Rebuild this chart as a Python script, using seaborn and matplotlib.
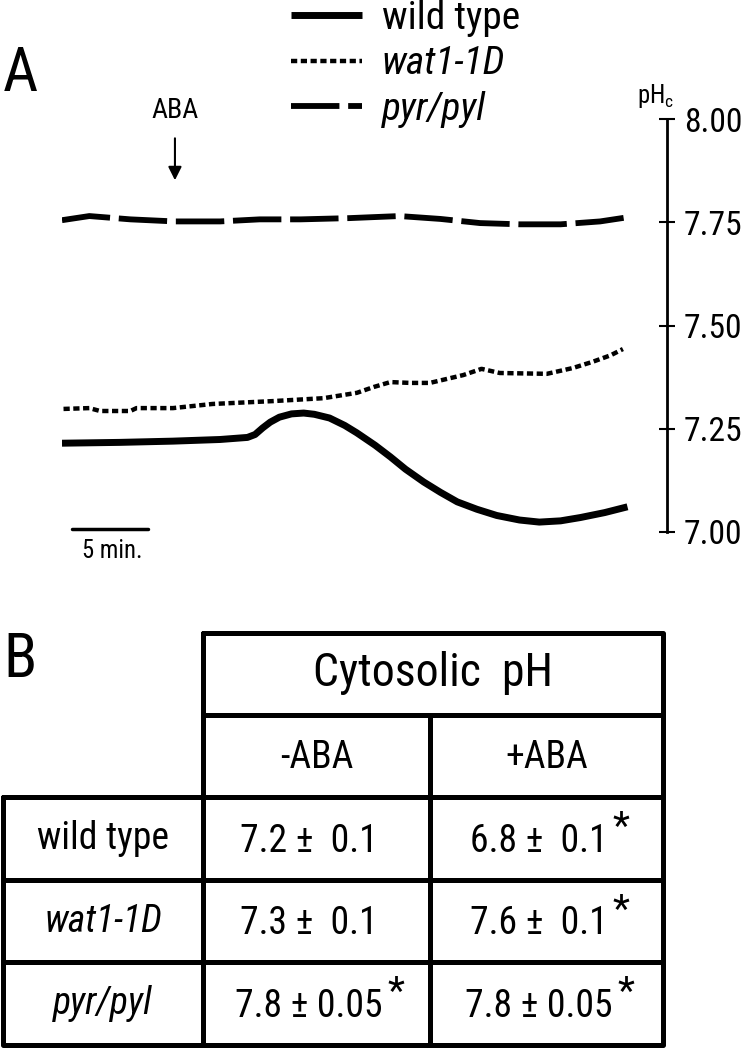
import numpy as np
import pandas as pd
import seaborn as sns
import matplotlib
matplotlib.use('Agg')
import matplotlib.pyplot as plt
from matplotlib import font_manager

# === data ===
wt_time = [0, 3.8, 7.3, 10.4, 12.2, 12.7, 13.2, 13.7, 14.3, 15.1, 15.9, 16.6, 17.6, 18.6, 19.4,
           20.6, 21.6, 22.6, 23.8, 24.9, 26.0, 27.3, 28.6, 30.1, 31.4, 32.8, 34.1, 35.7, 37.2]
wt_ph = [7.215, 7.217, 7.220, 7.224, 7.229, 7.236, 7.252, 7.266, 7.278, 7.286, 7.288, 7.285,
         7.276, 7.258, 7.240, 7.210, 7.182, 7.152, 7.121, 7.096, 7.073, 7.055, 7.040, 7.029,
         7.024, 7.027, 7.035, 7.047, 7.061]

wat_time = [0.1, 1.8, 2.5, 4.5, 4.9, 7.3, 9.9, 13.9, 17.2, 19.4, 20.5, 21.6, 22.9, 24.2,
            26.4, 27.6, 28.8, 31.9, 33.6, 34.9, 36.1, 36.9]
wat_ph = [7.298, 7.300, 7.293, 7.293, 7.300, 7.300, 7.310, 7.317, 7.324, 7.337, 7.351, 7.363,
          7.361, 7.361, 7.380, 7.395, 7.385, 7.383, 7.397, 7.412, 7.428, 7.443]

pyr_time = [0, 1.8, 4.5, 7.4, 10.4, 13.0, 15.7, 18.9, 22.2, 24.9, 27.5, 30.1, 32.8, 35.4, 37.2]
pyr_ph = [7.755, 7.765, 7.757, 7.752, 7.752, 7.757, 7.757, 7.760, 7.765, 7.758, 7.748,
          7.745, 7.745, 7.752, 7.762]

yticks = [7.00, 7.25, 7.50, 7.75, 8.00]
ytick_labels = ['7.00', '7.25', '7.50', '7.75', '8.00']
aba_time = 7.43

# table
genotypes = ['wild type', 'wat1-1D', 'pyr/pyl']
conditions = ['-ABA', '+ABA']
minus_aba = ['7.2 \u00b1  0.1', '7.3 \u00b1  0.1', '7.8 \u00b1 0.05']
plus_aba = ['6.8 \u00b1  0.1', '7.6 \u00b1  0.1', '7.8 \u00b1 0.05']
minus_star = [False, False, True]
plus_star = [True, True, True]

# === style ===
sns.set_style('white')

# narrow sans if there is one, otherwise Arial-like Liberation Sans
names = {f.name for f in font_manager.fontManager.ttflist}
narrow = [n for n in ['Liberation Sans Narrow', 'Arial Narrow', 'Roboto Condensed',
                      'Noto Sans Condensed', 'Open Sans Condensed', 'DejaVu Sans Condensed']
          if n in names]
fam = narrow[0] if narrow else 'Liberation Sans'
scale = 1.18 if narrow else 1.0
print('font:', fam)

plt.rcParams['font.family'] = [fam, 'DejaVu Sans']
plt.rcParams['mathtext.fontset'] = 'custom'
plt.rcParams['mathtext.rm'] = fam
plt.rcParams['mathtext.it'] = fam + ':italic'
for k in ['text.color', 'axes.labelcolor', 'xtick.color', 'ytick.color']:
    plt.rcParams[k] = 'black'


def fs(x):
    return x * scale


W, H = 750, 1049
fig = plt.figure(figsize=(7.5, 10.49), dpi=100)

# === panel A ===
ax = fig.add_axes([62 / W, 1 - 532 / H, (667 - 62) / W, (532 - 119) / H])
sns.lineplot(x=wt_time, y=wt_ph, ax=ax, color='black', lw=5.0, label='wild type',
             solid_capstyle='butt')
sns.lineplot(x=wat_time, y=wat_ph, ax=ax, color='black', lw=3.2, label='wat1-1D',
             linestyle=(0, (1.4, 0.8)))
sns.lineplot(x=pyr_time, y=pyr_ph, ax=ax, color='black', lw=4.2, label='pyr/pyl',
             linestyle=(0, (8.3, 1.5)))

ax.set_xlim(0, 39.8)
ax.set_ylim(7.0, 8.0)
for s in ['left', 'top', 'bottom']:
    ax.spines[s].set_visible(False)
ax.spines['right'].set_linewidth(2)
ax.spines['right'].set_color('black')
ax.yaxis.tick_right()
ax.set_yticks(yticks)
ax.set_yticklabels(ytick_labels)
ax.set_xticks([])
ax.tick_params(axis='y', direction='inout', length=12, width=1.5, labelsize=fs(20.5), pad=6)
ax.set_xlabel('')
ax.set_ylabel('')

handles, labels = ax.get_legend_handles_labels()
ax.get_legend().remove()
leg = fig.legend(handles, labels, loc='upper left', bbox_to_anchor=(256 / W, 1.034),
                 frameon=False, fontsize=fs(24), handlelength=1.8, handletextpad=0.5,
                 labelspacing=0.22)
for t in leg.get_texts()[1:]:
    t.set_fontstyle('italic')

ax.text(1.012, 1.022, 'pH$_\\mathrm{c}$', transform=ax.transAxes, ha='right', va='bottom',
        fontsize=fs(15))

# ABA arrow
ax.annotate('', xy=(aba_time, 7.845), xytext=(aba_time, 7.96),
            arrowprops=dict(arrowstyle='-|>', color='black', lw=1.5, mutation_scale=20))
ax.text(aba_time, 8.02, 'ABA', ha='center', va='center', fontsize=fs(17), clip_on=False)

# 5 min scale bar
ax.plot([0.66, 5.66], [7.007, 7.007], color='black', lw=2.5, clip_on=False)
ax.text(1.3, 6.953, '5 min.', ha='left', va='center', fontsize=fs(15), clip_on=False)

# === panel B: table ===
tab = fig.add_axes([0, 0, 1, 1])
tab.set_xlim(0, W)
tab.set_ylim(H, 0)
tab.axis('off')
tab.set_zorder(-1)

lw = 3.6
xs = [3, 203, 430, 663]
ys = [633, 715, 797, 880, 962, 1045]
# header block
tab.plot([203, 663, 663, 203, 203], [633, 633, 797, 797, 633], color='black', lw=lw)
tab.plot([203, 663], [715, 715], color='black', lw=lw)
# body
tab.plot([3, 663, 663, 3, 3], [797, 797, 1045, 1045, 797], color='black', lw=lw)
for y in ys[3:5]:
    tab.plot([3, 663], [y, y], color='black', lw=lw)
tab.plot([203, 203], [797, 1045], color='black', lw=lw)
tab.plot([430, 430], [715, 1045], color='black', lw=lw)

tab.text((203 + 663) / 2, 673, 'Cytosolic  pH', ha='center', va='center', fontsize=fs(28))
for i, c in enumerate(conditions):
    tab.text((xs[i + 1] + xs[i + 2]) / 2, 757, c, ha='center', va='center', fontsize=fs(23))

fig.text(3 / W, 1 - 74 / H, 'A', ha='left', va='center', fontsize=44)
fig.text(3 / W, 1 - 660 / H, 'B', ha='left', va='center', fontsize=44)

renderer = fig.canvas.get_renderer()
inv = tab.transData.inverted()
for r, g in enumerate(genotypes):
    yc = (ys[r + 2] + ys[r + 3]) / 2
    style = 'normal' if r == 0 else 'italic'
    tab.text(103, yc, g, ha='center', va='center', fontsize=fs(23), fontstyle=style)
    for col, vals, stars in [(1, minus_aba, minus_star), (2, plus_aba, plus_star)]:
        xc = (xs[col] + xs[col + 1]) / 2 - 8
        t = tab.text(xc, yc + 3, vals[r], ha='center', va='center', fontsize=fs(23))
        if stars[r]:
            bb = t.get_window_extent(renderer)
            x_end = inv.transform((bb.x1, bb.y1))[0]
            tab.text(x_end + 5, yc - 10, '*', ha='left', va='center', fontsize=fs(24))

fig.savefig('out.png', dpi=100)
